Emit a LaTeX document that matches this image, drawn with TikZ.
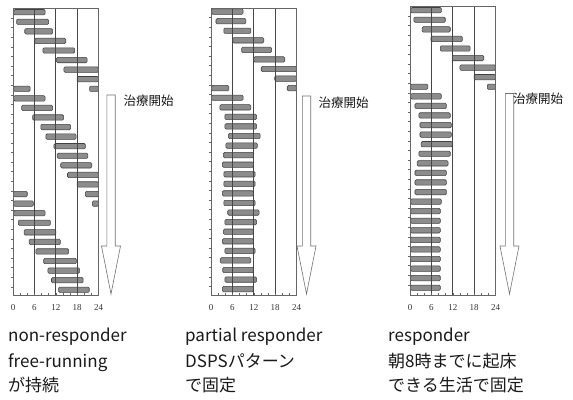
\documentclass[tikz,border=0pt]{standalone}
\usepackage{fontspec}
\setmainfont{Liberation Serif}
\newfontfamily\jp{Noto Sans CJK JP}
\newcommand{\drawpanel}[5]{%
  % #1 x origin, #2 y of first row, #3 frame top, #4 bar list, #5 name prefix
  \begin{scope}[shift={(#1,0)}]
    \foreach \r/\s/\e in {#4} {
      \pgfmathsetmacro{\yy}{#2+(\r-1)*9.57}
      \draw[bar] (\s*3.5625,\yy-2.7) rectangle (\e*3.5625,\yy+2.7);
    }
    \foreach \h in {6,12,18} \draw[gridl] (\h*3.5625,#3) -- (\h*3.5625,295.5);
    \draw[frm] (0,295.5) -- (0,#3) -- (85.5,#3) -- (85.5,295.5) -- cycle;
    \foreach \k in {1,...,29} {
      \pgfmathsetmacro{\ty}{#3+\k*9.6}
      \draw[tk] (0,\ty) -- ++(-2,0);
    }
    \foreach \h in {2,4,...,22} \draw[tk] (\h*3.5625,295.5) -- ++(0,-2.5);
    \foreach \h/\lab in {0/0,6/6,12/12,18/18,24/24}
      \node[ticklab] (#5t\h) at (\h*3.5625,307.5) {\lab};
  \end{scope}}
\begin{document}
\begin{tikzpicture}[x=1pt,y=-1pt,
  bar/.style={fill=black!45, draw=black!75, line width=0.55pt, rounded corners=1.2pt},
  gridl/.style={draw=black!72, line width=0.85pt},
  frm/.style={draw=black!60, line width=0.7pt},
  tk/.style={draw=black!60, line width=0.5pt},
  blockarrow/.style={draw=black!55, fill=white, line width=0.6pt},
  ticklab/.style={font=\fontsize{9}{10}\selectfont, inner sep=0pt, text=black!80},
  caption/.style={font=\jp\fontsize{17}{20}\selectfont, anchor=base west, inner sep=0pt, text=black!90},
  startlab/.style={font=\jp\fontsize{12.5}{14}\selectfont, anchor=west, inner sep=0pt, text=black!90}]
\useasboundingbox[fill=white] (0,0) rectangle (573,399);

% panel 1: non-responder
\drawpanel{13}{12.2}{8.5}{1/0.2/9, 2/1/10, 3/3.3/11.1, 4/6.1/14.8, 5/8.4/17.3, 6/12.2/20.8,
  7/14.3/24, 8/18/24, 9/0.2/4.8, 9/21.5/24, 10/0.2/9, 11/2.4/11.1, 12/5.5/14.2,
  13/7.8/16.2, 14/9.2/17.7, 15/11.5/20.3, 16/12.4/21, 17/13.4/22.1, 18/15.3/24,
  19/18/24, 20/0.2/4, 20/20.3/24, 21/0.2/5.7, 21/22.3/24, 22/0.2/9, 23/1.5/10.5,
  24/3.1/12, 25/4.5/13.3, 26/6.4/15.6, 27/8.6/17.8, 28/9.8/18.7, 29/10.8/19.7,
  30/12.8/21.4}{a}

% panel 2: partial responder
\drawpanel{211}{11.6}{8}{1/0.2/9, 2/1.4/9.8, 3/3.6/11.2, 4/6.1/14.8, 5/8.6/17, 6/12/20.7,
  7/14.1/24, 8/17.9/24, 9/0.2/5, 9/21.4/24, 10/0.2/9, 11/2.5/11.2, 12/3.9/12.8,
  13/3.9/12.8, 14/4.9/13.8, 15/4.2/13, 16/3.5/11.9, 17/3.2/11.9, 18/3.6/12.4,
  19/3.6/12.4, 20/3.2/11.9, 21/3.6/12.4, 22/4.7/13.5, 23/3.9/12.8, 24/3.5/11.9,
  25/3.2/11.9, 26/3.9/12.4, 27/2.6/11.2, 28/3.3/11.9, 29/3.9/12.8, 30/3.2/11.9}{b}

% panel 3: responder
\drawpanel{410}{10.2}{6.5}{1/0.2/8.8, 2/1.1/9.9, 3/3.4/11.3, 4/5.9/14.7, 5/8.5/16.9,
  6/11.9/20.7, 7/14/24, 8/18/24, 9/0.2/5, 9/21.7/24, 10/0.2/8.8, 11/1.4/10.2,
  12/2.5/11.3, 13/2.8/11.6, 14/2.8/11.6, 15/3.1/11.9, 16/2.5/11.3, 17/2/10.7,
  18/1.4/10.2, 19/1.4/10.2, 20/1.4/10.2, 21/0.2/8.8, 22/0.2/8.5, 23/0.2/8.5,
  24/0.2/8.5, 25/0.2/8.5, 26/0.2/8.5, 27/0.2/8.5, 28/0.2/8.5, 29/0.2/8.5,
  30/0.2/8.5}{c}

% treatment-start arrows
\foreach \cx/\top in {111/95, 306.5/96, 509.5/93.5}
  \draw[blockarrow] (\cx-4.2,\top) -- (\cx+4.2,\top) -- (\cx+4.2,246) -- (\cx+9.5,246)
    -- (\cx,294) -- (\cx-9.5,246) -- (\cx-4.2,246) -- cycle;

\node[startlab] (sa) at (123.5,101) {治療開始};
\node[startlab] (sb) at (318.5,103) {治療開始};
\node[startlab] (sc) at (513,99) {治療開始};

% captions
\node[caption] (a1) at (8,341) {non-responder};
\node[caption] (a2) at (8,367) {free-running};
\node[caption] (a3) at (8,391) {が持続};
\node[caption] (b1) at (185,341) {partial responder};
\node[caption] (b2) at (185,367) {DSPSパターン};
\node[caption] (b3) at (185,391) {で固定};
\node[caption] (c1) at (388,341) {responder};
\node[caption] (c2) at (388,367) {朝8時までに起床};
\node[caption] (c3) at (388,391) {できる生活で固定};
\end{tikzpicture}
\end{document}
